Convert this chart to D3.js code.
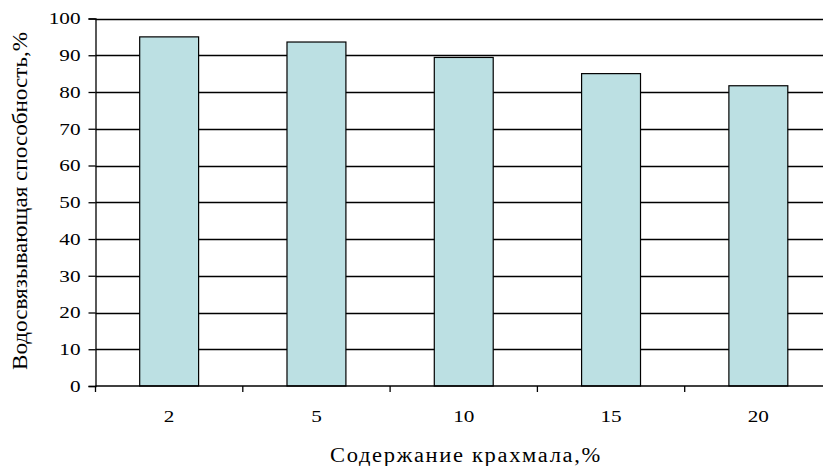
<!DOCTYPE html>
<html>
<head>
<meta charset="utf-8">
<script src="https://cdn.jsdelivr.net/npm/d3@7"></script>
</head>
<body style="margin:0; padding:0; background:#fff">
<svg id="chart" width="823" height="466"></svg>
<script>
// Starch content (%) and water-binding capacity (%)
const categories = ["2", "5", "10", "15", "20"];
const values = [95.0, 93.6, 89.4, 85.0, 81.7];
const yTicks = [0, 10, 20, 30, 40, 50, 60, 70, 80, 90, 100];
const xTitle = "Содержание крахмала,%";
const yTitle = "Водосвязывающая способность,%";

const serif = "'Liberation Serif', serif";
const svg = d3.select("#chart");
const W = 823, H = 466;
const plot = { left: 95.5, top: 18.5, bottom: 386, right: 832 };

const x = d3.scaleBand()
  .domain(categories)
  .range([plot.left, plot.right])
  .paddingInner(0.6)
  .paddingOuter(0.3);
const y = d3.scaleLinear().domain([0, 100]).range([plot.bottom, plot.top]);

const step = x.step();
const gap = step * 0.3;

// horizontal gridlines
svg.append("g")
  .selectAll("line")
  .data(yTicks.filter(t => t > 0))
  .join("line")
  .attr("x1", plot.left).attr("x2", W)
  .attr("y1", d => Math.round(y(d)) + 0.5).attr("y2", d => Math.round(y(d)) + 0.5)
  .attr("stroke", "#000").attr("stroke-width", 1.3);

// bars
svg.append("g")
  .selectAll("rect")
  .data(categories.map((c, i) => ({ c, v: values[i] })))
  .join("rect")
  .attr("x", d => x(d.c))
  .attr("y", d => y(d.v))
  .attr("width", x.bandwidth())
  .attr("height", d => y(0) - y(d.v))
  .attr("fill", "#bce0e3")
  .attr("stroke", "#000")
  .attr("stroke-width", 1.2);

// y axis
const yAxis = d3.axisLeft(y).tickValues(yTicks).tickSize(7).tickPadding(8);
const gy = svg.append("g").attr("transform", `translate(${plot.left},0)`).call(yAxis);
gy.select(".domain").attr("stroke", "#000").attr("stroke-width", 1.3);
gy.selectAll(".tick line").attr("stroke", "#000").attr("stroke-width", 1.3);
gy.selectAll(".tick text")
  .style("font-family", serif)
  .style("font-size", "17px")
  .attr("fill", "#000")
  .attr("textLength", d => String(d).length * 10.6)
  .attr("lengthAdjust", "spacingAndGlyphs");

// x axis: labels at band centres, tick marks at band boundaries
const gx = svg.append("g").attr("transform", `translate(0,${plot.bottom})`)
  .call(d3.axisBottom(x).tickSize(0).tickPadding(24));
gx.select(".domain").remove();
gx.selectAll(".tick text")
  .style("font-family", serif)
  .style("font-size", "17px")
  .attr("fill", "#000")
  .attr("textLength", d => String(d).length * 10.6)
  .attr("lengthAdjust", "spacingAndGlyphs");

svg.append("line")
  .attr("x1", plot.left).attr("x2", W)
  .attr("y1", plot.bottom).attr("y2", plot.bottom)
  .attr("stroke", "#000").attr("stroke-width", 1.4);

const boundaries = categories.map(c => x(c) - gap).concat([x(categories[categories.length - 1]) + x.bandwidth() + gap]);
svg.append("g")
  .selectAll("line")
  .data(boundaries)
  .join("line")
  .attr("x1", d => d).attr("x2", d => d)
  .attr("y1", plot.bottom).attr("y2", plot.bottom + 6)
  .attr("stroke", "#000").attr("stroke-width", 1.3);

// axis titles
svg.append("text")
  .attr("x", 466).attr("y", 462)
  .attr("text-anchor", "middle")
  .style("font-family", serif)
  .style("font-size", "20px")
  .style("letter-spacing", "1.5px")
  .attr("textLength", 272)
  .attr("lengthAdjust", "spacingAndGlyphs")
  .text(xTitle);

svg.append("text")
  .attr("transform", `translate(27,201) rotate(-90)`)
  .attr("text-anchor", "middle")
  .style("font-family", serif)
  .style("font-size", "21px")
  .attr("textLength", 338)
  .attr("lengthAdjust", "spacingAndGlyphs")
  .text(yTitle);
</script>
</body>
</html>
